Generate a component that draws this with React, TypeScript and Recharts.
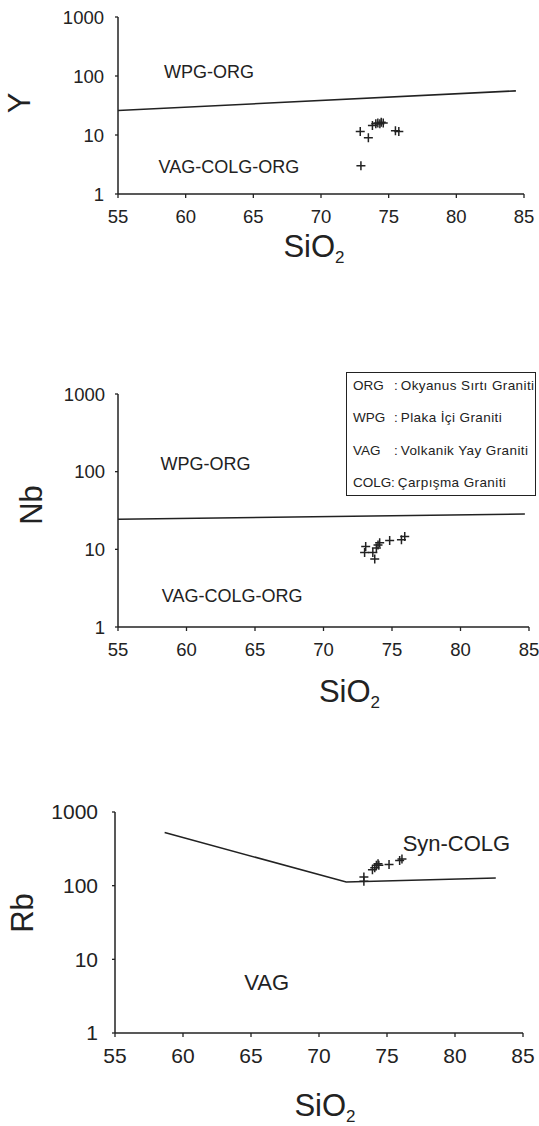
import React from 'react';
import { ScatterChart, Scatter, XAxis, YAxis, ReferenceDot } from 'recharts';

const FONT = '"Liberation Sans", Arial, sans-serif';
const INK = '#222';

const sio2Ticks = [55, 60, 65, 70, 75, 80, 85];
const logTicks = [1, 10, 100, 1000];

// Y vs SiO2
const yBoundary = [
  { x: 55, y: 26 },
  { x: 84.4, y: 56 },
];
const ySamples = [
  { x: 72.9, y: 11.5 },
  { x: 73.5, y: 9 },
  { x: 72.95, y: 3 },
  { x: 73.8, y: 14.5 },
  { x: 74.05, y: 15.5 },
  { x: 74.2, y: 16 },
  { x: 74.35, y: 15.5 },
  { x: 74.45, y: 16.5 },
  { x: 74.6, y: 16 },
  { x: 75.5, y: 11.8 },
  { x: 75.75, y: 11.5 },
];
const yRegions = [
  { x: 58.4, y: 118, text: 'WPG-ORG', size: 18 },
  { x: 58.0, y: 2.9, text: 'VAG-COLG-ORG', size: 18 },
];

// Nb vs SiO2
const nbBoundary = [
  { x: 55, y: 24.4 },
  { x: 84.7, y: 28.5 },
];
const nbSamples = [
  { x: 73.08, y: 10.9 },
  { x: 73.0, y: 9.1 },
  { x: 73.6, y: 9.1 },
  { x: 73.74, y: 7.5 },
  { x: 73.98, y: 11.4 },
  { x: 74.1, y: 12.2 },
  { x: 73.86, y: 10.4 },
  { x: 74.83, y: 13 },
  { x: 75.69, y: 13.3 },
  { x: 75.93, y: 14.6 },
];
const nbRegions = [
  { x: 58.1, y: 126, text: 'WPG-ORG', size: 18 },
  { x: 58.2, y: 2.5, text: 'VAG-COLG-ORG', size: 18 },
];

// Rb vs SiO2
const rbBoundary = [
  { x: 58.65, y: 526 },
  { x: 72, y: 112 },
  { x: 83, y: 127 },
];
const rbSamples = [
  { x: 73.3, y: 131 },
  { x: 73.3, y: 115 },
  { x: 73.93, y: 165 },
  { x: 74.1, y: 175 },
  { x: 74.22, y: 189 },
  { x: 74.34, y: 199 },
  { x: 74.4, y: 189 },
  { x: 75.15, y: 194 },
  { x: 75.93, y: 220 },
  { x: 76.1, y: 230 },
];
const rbRegions = [
  { x: 64.5, y: 4.9, text: 'VAG', size: 22 },
  { x: 76.15, y: 375, text: 'Syn-COLG', size: 22 },
];

const legendRows = [
  { abbr: 'ORG', name: 'Okyanus Sırtı Graniti' },
  { abbr: 'WPG', name: 'Plaka İçi Graniti' },
  { abbr: 'VAG', name: 'Volkanik Yay Graniti' },
  { abbr: 'COLG', name: 'Çarpışma Graniti' },
];

const Cross = (props: any) => {
  const { cx, cy } = props;
  if (cx == null || cy == null) return <g />;
  return (
    <path
      d={`M${cx - 4.5},${cy}h9M${cx},${cy - 4.5}v9`}
      stroke={INK}
      strokeWidth={1.5}
      fill="none"
    />
  );
};

const NoDot = () => <g />;

const sio2Label = (dx: number, dy: number) => (props: any) => {
  const vb = props.viewBox || {};
  return (
    <text
      x={vb.x + vb.width / 2 + dx}
      y={vb.y + dy}
      textAnchor="middle"
      fontFamily={FONT}
      fontSize={31}
      fill={INK}
    >
      SiO
      <tspan fontSize={17} dy={6}>
        2
      </tspan>
    </text>
  );
};

const elemLabel = (text: string, cx: number, dy: number) => (props: any) => {
  const vb = props.viewBox || {};
  const cy = vb.y + vb.height / 2 + dy;
  return (
    <text
      x={cx}
      y={cy}
      transform={`rotate(-90 ${cx} ${cy})`}
      textAnchor="middle"
      dominantBaseline="central"
      fontFamily={FONT}
      fontSize={31}
      fill={INK}
    >
      {text}
    </text>
  );
};

const regionLabel = (text: string, size: number) => (props: any) => {
  const vb = props.viewBox || {};
  return (
    <text
      x={vb.x}
      y={vb.y}
      dominantBaseline="central"
      fontFamily={FONT}
      fontSize={size}
      fill={INK}
    >
      {text}
    </text>
  );
};

interface DiagramProps {
  top: number;
  height: number;
  margin: { top: number; right: number; bottom: number; left: number };
  yWidth: number;
  yTickMargin: number;
  tickFont: number;
  boundary: { x: number; y: number }[];
  samples: { x: number; y: number }[];
  regions: { x: number; y: number; text: string; size: number }[];
  element: string;
  elemX: number;
  elemDy: number;
  sio2Dx: number;
  sio2Dy: number;
}

const Diagram: React.FC<DiagramProps> = (p) => (
  <div style={{ position: 'absolute', left: 0, top: p.top }}>
    <ScatterChart width={539} height={p.height} margin={p.margin}>
      <XAxis
        type="number"
        dataKey="x"
        domain={[55, 85]}
        ticks={sio2Ticks}
        interval={0}
        allowDataOverflow
        height={60}
        tickSize={4}
        tickMargin={p.tickFont > 19 ? 11 : 12}
        axisLine={{ stroke: INK, strokeWidth: 1.5 }}
        tickLine={{ stroke: INK, strokeWidth: 1.3 }}
        tick={{ fill: INK, fontSize: p.tickFont, fontFamily: FONT }}
        label={sio2Label(p.sio2Dx, p.sio2Dy)}
      />
      <YAxis
        type="number"
        dataKey="y"
        scale="log"
        domain={[1, 1000]}
        ticks={logTicks}
        interval={0}
        allowDataOverflow
        width={p.yWidth}
        tickSize={3}
        tickMargin={p.yTickMargin}
        axisLine={{ stroke: INK, strokeWidth: 1.5 }}
        tickLine={{ stroke: INK, strokeWidth: 1.3 }}
        tick={{ fill: INK, fontSize: p.tickFont, fontFamily: FONT }}
        label={elemLabel(p.element, p.elemX, p.elemDy)}
      />
      <Scatter
        data={p.boundary}
        line={{ stroke: INK, strokeWidth: 1.6 }}
        shape={NoDot}
        isAnimationActive={false}
      />
      <Scatter data={p.samples} shape={Cross} isAnimationActive={false} />
      {p.regions.map((r) => (
        <ReferenceDot
          key={r.text}
          x={r.x}
          y={r.y}
          r={0}
          fill="none"
          stroke="none"
          label={regionLabel(r.text, r.size)}
        />
      ))}
    </ScatterChart>
  </div>
);

const LegendBox = () => (
  <div
    style={{
      position: 'absolute',
      left: 346,
      top: 372,
      width: 188,
      height: 122,
      border: `1.5px solid ${INK}`,
      fontFamily: FONT,
      fontSize: 13.5,
      color: INK,
      background: '#fff',
    }}
  >
    {legendRows.map((r, i) => (
      <div
        key={r.abbr}
        style={{
          position: 'absolute',
          left: 6,
          top: 4 + i * 32.4,
          whiteSpace: 'nowrap',
          lineHeight: '18px',
        }}
      >
        <span style={{ display: 'inline-block', width: r.abbr === 'COLG' ? 38 : 41 }}>{r.abbr}</span>
        <span>:</span>
        <span style={{ marginLeft: 3, letterSpacing: 0.4 }}>{r.name}</span>
      </div>
    ))}
  </div>
);

export default function App() {
  return (
    <div style={{ position: 'absolute', left: 0, top: 0, width: 539, height: 1126, background: '#fff' }}>
      <Diagram
        top={0}
        height={280}
        margin={{ top: 17, right: 15, bottom: 26, left: 0 }}
        yWidth={118}
        yTickMargin={11}
        tickFont={18.5}
        boundary={yBoundary}
        samples={ySamples}
        regions={yRegions}
        element="Y"
        elemX={19}
        elemDy={-2.5}
        sio2Dx={-7}
        sio2Dy={63}
      />
      <Diagram
        top={370}
        height={350}
        margin={{ top: 24, right: 10, bottom: 33, left: 0 }}
        yWidth={118}
        yTickMargin={10}
        tickFont={18.5}
        boundary={nbBoundary}
        samples={nbSamples}
        regions={nbRegions}
        element="Nb"
        elemX={31}
        elemDy={-5.5}
        sio2Dx={26}
        sio2Dy={75}
      />
      <Diagram
        top={790}
        height={336}
        margin={{ top: 22, right: 16, bottom: 33, left: 0 }}
        yWidth={115}
        yTickMargin={14}
        tickFont={21}
        boundary={rbBoundary}
        samples={rbSamples}
        regions={rbRegions}
        element="Rb"
        elemX={22}
        elemDy={-9.5}
        sio2Dx={6}
        sio2Dy={83}
      />
      <LegendBox />
    </div>
  );
}
